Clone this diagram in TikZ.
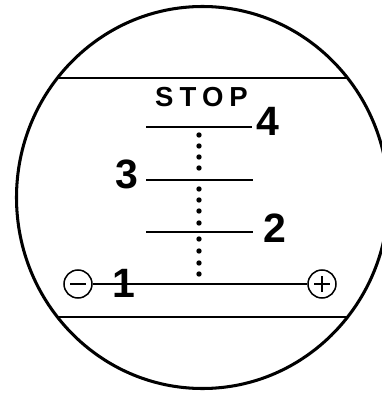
\documentclass[tikz,border=0pt]{standalone}
\usepackage{fontspec}
\setmainfont{Liberation Sans}
\usepackage{tikz}
\usetikzlibrary{calc, positioning}

\begin{document}
\begin{tikzpicture}[x=0.03cm, y=-0.03cm,
        rim/.style={line width=2.6pt},
        chord/.style={line width=1.6pt},
        tickline/.style={line width=1.5pt},
        pole/.style={draw, circle, line width=1.3pt, minimum size=0.84cm, inner sep=0pt},
        num/.style={font=\fontsize{35}{35}\selectfont\bfseries, inner sep=0pt, anchor=base},
        stoptext/.style={font=\fontsize{23.5}{23.5}\selectfont\bfseries\addfontfeature{LetterSpace=22},
                    inner sep=0pt, anchor=base west}]
        \useasboundingbox (0,0) rectangle (381,394);

        % Window
        \draw[rim] (202.5,197.5) ellipse [x radius=186, y radius=191];
        \draw[chord] (57.4,78) -- (347.6,78);
        \draw[chord] (57.4,317) -- (347.6,317);

        % Stop label
        \node[stoptext] (stop) at (155,107) {STOP};

        % Positions
        \draw[tickline] (146,127) -- (252,127);
        \draw[tickline] (146,180) -- (253,180);
        \draw[tickline] (146,232) -- (253,232);
        \node[num] (four)  at (268,135) {4};
        \node[num] (three) at (127,188) {3};
        \node[num] (two)   at (275,242) {2};

        % Minus / plus poles
        \node[pole] (neg) at (78,284) {};
        \node[pole] (pos) at (322,284) {};
        \draw[tickline] ([xshift=-0.24cm]neg.center) -- ([xshift=0.24cm]neg.center);
        \draw[tickline] ([xshift=-0.24cm]pos.center) -- ([xshift=0.24cm]pos.center);
        \draw[tickline] ([yshift=-0.24cm]pos.center) -- ([yshift=0.24cm]pos.center);
        \draw[tickline] (neg) -- (pos);
        \node[num] (one) at (124,297) {1};

        % Dotted track
        \foreach \y in {135,146,157,168,189,200,211,223,239,251,263,274}
          \fill (199,\y) circle [radius=2.7];
\end{tikzpicture}
\end{document}
